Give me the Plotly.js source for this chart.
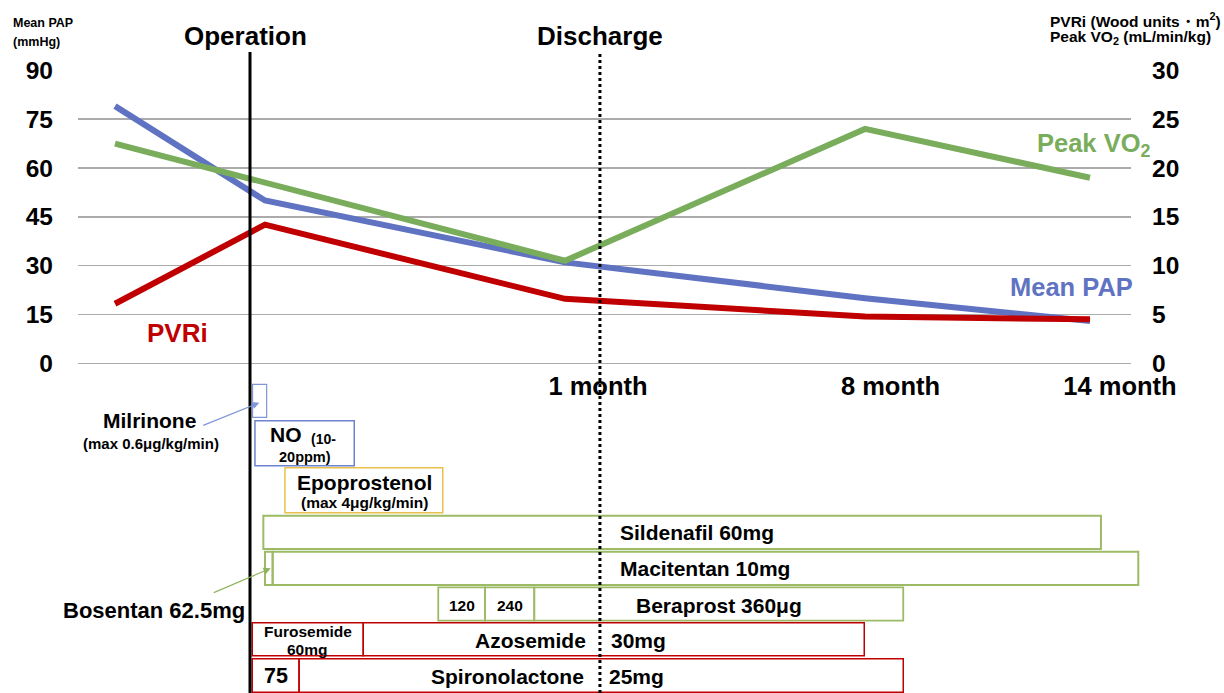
<!DOCTYPE html>
<html><head><meta charset="utf-8">
<script src="https://cdn.plot.ly/plotly-3.0.1.min.js"></script>
<style>html,body{margin:0;padding:0;background:#fff}#chart{width:1224px;height:693px}</style>
</head><body><div id="chart"></div>
<script>
// ---------------- data ----------------
const timePoints = ['Pre-op', 'Post-op', '1 month', '8 month', '14 month'];
const timePos   = [0, 1, 3, 5, 6.5];
const meanPAP   = [79, 50, 31, 20, 13];        // mmHg (left axis)
const pvri      = [6.1, 14.2, 6.6, 4.8, 4.5];  // Wood units·m² (right axis)
const peakVO2   = [22.5, null, 10.5, 24, 19];  // mL/min/kg (right axis)

const xTickText = ['1 month', '8 month', '14 month'];
const xTickPos  = [3.22, 5.17, 6.70];
const leftTicks  = [0, 15, 30, 45, 60, 75, 90];
const rightTicks = [0, 5, 10, 15, 20, 25, 30];

const eventNames = ['Operation', 'Discharge'];
const eventPos   = [0.9, 3.233];

// treatment timeline (same time units as timePos)
const drugName  = ['Milrinone','NO','Epoprostenol','Sildenafil','Bosentan','Macitentan','Beraprost','Beraprost','Beraprost','Furosemide','Azosemide','Spironolactone','Spironolactone'];
const drugDose  = ['max 0.6μg/kg/min','10-20ppm','max 4μg/kg/min','60mg','62.5mg','10mg','120','240','360μg','60mg','30mg','75','25mg'];
const drugStart = [0.917, 0.933, 1.133, 0.989, 1.000, 1.051, 2.155, 2.467, 2.795, 0.915, 1.655, 0.915, 1.227];
const drugEnd   = [1.011, 1.595, 2.185, 6.573, 1.051, 6.822, 2.467, 2.795, 5.255, 1.655, 4.995, 1.227, 5.255];
const drugRow   = [0, 1, 2, 3, 4, 4, 5, 5, 5, 6, 6, 7, 7];
const drugGroup = ['ino','no','pgi','pde5','era','era','pgi2oral','pgi2oral','pgi2oral','diuretic','diuretic','diuretic','diuretic'];

// ---------------- layout geometry / styles ----------------
const FONT = 'Liberation Sans, Arial, Helvetica, sans-serif';
const W = 1224, H = 693;
const plotL = 78, plotR = 1140, plotT = 70, plotB = 693;
const axisRightPx = 1131, axisBottomPx = 363.3, axisTopPx = 70;
const pxPerUnit = 150, originPx = 115;
const xMin = (plotL - originPx) / pxPerUnit;
const xMaxMain = (axisRightPx - originPx) / pxPerUnit;
const xMaxTL = (plotR - originPx) / pxPerUnit;
const plotH = plotB - plotT;
const pu = px => (px - originPx) / pxPerUnit;        // pixel column -> time units
const py = px => (plotB - px) / plotH;                // pixel row -> paper

// small padding so the 0 and 90 gridlines are interior
const padL = 0.1, padR = padL / 3;
const pxPerMM = (axisBottomPx - axisTopPx) / 90;
const mainLow = (plotB - (axisBottomPx + padL * pxPerMM)) / plotH;
const mainHigh = (plotB - (axisTopPx - padL * pxPerMM)) / plotH;
const tlHigh = (plotB - axisBottomPx) / plotH;

const rowTop    = [384.3, 420.7, 467.7, 515.7, 551.7, 587.3, 622.7, 658.7];
const rowBottom = [417.3, 465.7, 512.7, 549.0, 585.0, 620.7, 655.7, 692.3];
const groupColor = {ino:'#8196DA', no:'#6E82CF', pgi:'#E9C04C', pde5:'#9DBB67', era:'#9DBB67', pgi2oral:'#9DBB67', diuretic:'#C00000'};
const groupWidth = {ino:1.2, no:1.5, pgi:1.5, pde5:2, era:2, pgi2oral:1.8, diuretic:1.5};

const cBlue = '#5F73C2', cGreen = '#79AD5C', cRed = '#C00000';

// ---------------- traces ----------------
const traces = [
  {x: timePos, y: meanPAP, name: 'Mean PAP', yaxis: 'y', xaxis: 'x', mode: 'lines',
   line: {color: cBlue, width: 6}, hoverinfo: 'skip'},
  {x: timePos, y: pvri, name: 'PVRi', yaxis: 'y2', xaxis: 'x', mode: 'lines',
   line: {color: cRed, width: 6}, hoverinfo: 'skip'},
  {x: timePos, y: peakVO2, name: 'Peak VO2', yaxis: 'y2', xaxis: 'x', mode: 'lines', connectgaps: true,
   line: {color: cGreen, width: 6}, hoverinfo: 'skip'}
];

// ---------------- shapes ----------------
const shapes = [];
for (let i = 0; i < drugName.length; i++) {
  shapes.push({type: 'rect', xref: 'x2', yref: 'y3',
    x0: drugStart[i], x1: drugEnd[i], y0: rowTop[drugRow[i]], y1: rowBottom[drugRow[i]],
    line: {color: groupColor[drugGroup[i]], width: groupWidth[drugGroup[i]]},
    fillcolor: 'rgba(0,0,0,0)'});
}
eventNames.forEach((n, i) => {
  shapes.push({type: 'line', xref: 'x', yref: 'paper', x0: eventPos[i], x1: eventPos[i],
    y0: 0, y1: py(52), line: {color: '#000', width: 3, dash: i === 0 ? 'solid' : 'dot'}});
});

// ---------------- annotations ----------------
const ann = [];
function txt(text, x, y, size, opts) {
  ann.push(Object.assign({text: text, x: x, y: y, xref: 'x2', yref: 'y3', showarrow: false,
    xanchor: 'center', yanchor: 'middle',
    font: {family: FONT, size: size, color: '#000', weight: 'bold'}}, opts || {}));
}
function arrow(hx, hy, tx, ty, color) {
  ann.push({text: '', x: pu(hx), y: hy, ax: pu(tx), ay: ty, xref: 'x2', yref: 'y3', axref: 'x2', ayref: 'y3',
    showarrow: true, arrowhead: 2, arrowsize: 1.2, arrowwidth: 1.2, arrowcolor: color, standoff: 0});
}
function ptxt(text, xpx, ypx, size, opts) {
  ann.push(Object.assign({text: text, xref: 'paper', yref: 'paper', x: (xpx - plotL) / (plotR - plotL), y: py(ypx),
    xanchor: 'left', yanchor: 'middle', align: 'left', showarrow: false,
    font: {family: FONT, size: size, color: '#000', weight: 'bold'}}, opts || {}));
}
// headers
ptxt('Mean PAP', 11, 23, 12.5);
ptxt('(mmHg)', 11, 42, 12.5);
ptxt('PVRi (Wood units・m<sup>2</sup>)', 1048, 20, 15.5);
ptxt('Peak VO<sub>2</sub> (mL/min/kg)', 1048, 37, 15.5);
// event labels
eventNames.forEach((n, i) => {
  ann.push({text: n, xref: 'x', yref: 'paper', x: eventPos[i], y: py(36), xshift: i === 0 ? -5 : 0,
    xanchor: 'center', yanchor: 'middle', showarrow: false,
    font: {family: FONT, size: 26, color: '#000', weight: 'bold'}});
});
// series labels
ann.push({text: 'Peak VO<sub>2</sub>', xref: 'x', yref: 'y2', x: pu(1035), y: 22.4, xanchor: 'left', yanchor: 'middle',
  showarrow: false, font: {family: FONT, size: 25.5, color: cGreen, weight: 'bold'}});
ann.push({text: 'Mean PAP', xref: 'x', yref: 'y', x: pu(1008), y: 23.3, xanchor: 'left', yanchor: 'middle',
  showarrow: false, font: {family: FONT, size: 25.5, color: cBlue, weight: 'bold'}});
ann.push({text: 'PVRi', xref: 'x', yref: 'y', x: pu(145), y: 9.2, xanchor: 'left', yanchor: 'middle',
  showarrow: false, font: {family: FONT, size: 26, color: cRed, weight: 'bold'}});

// timeline labels
txt(drugName[0], pu(149), 420, 21);
txt('(' + drugDose[0] + ')', pu(151), 443, 15);
arrow(259.3, 402.7, 201.7, 426, '#7F96D9');
txt(drugName[1], pu(304), 434, 21, {xanchor: 'right'});
txt('(10-', pu(308.5), 438.5, 14, {xanchor: 'left'});
txt('20ppm)', pu(305), 457, 14.5);
txt(drugName[2], pu(364), 482, 21);
txt('(' + drugDose[2] + ')', pu(364), 502, 15.5);
txt(drugName[3] + ' ' + drugDose[3], pu(697), 532, 21);
txt(drugName[5] + ' ' + drugDose[5], pu(704.5), 568.5, 21);
txt(drugName[4] + ' ' + drugDose[4], pu(154), 610, 22);
arrow(270.7, 568.3, 212.3, 593.3, '#8FB35C');
txt(drugDose[6], pu(461.7), 605, 15.5);
txt(drugDose[7], pu(509.7), 605, 15.5);
txt(drugName[8] + ' ' + drugDose[8], pu(718.5), 605, 21);
txt(drugName[9], pu(307.8), 631.5, 15.5);
txt(drugDose[9], pu(307.8), 649.5, 15.5);
txt(drugName[10], pu(587.5), 640, 21, {xanchor: 'right'});
txt(drugDose[10], pu(609), 640, 21, {xanchor: 'left'});
txt(drugDose[11], pu(275.7), 676, 21.5);
txt(drugName[12], pu(585.5), 676, 21, {xanchor: 'right'});
txt(drugDose[12], pu(607), 676, 21, {xanchor: 'left'});

const tickFont = {family: FONT, size: 24.5, color: '#000', weight: 'bold'};
const layout = {
  width: W, height: H,
  margin: {l: plotL, r: W - plotR, t: plotT, b: H - plotB, pad: 0},
  paper_bgcolor: '#ffffff', plot_bgcolor: 'rgba(0,0,0,0)',
  showlegend: false,
  font: {family: FONT, color: '#000'},
  xaxis: {domain: [0, (axisRightPx - plotL) / (plotR - plotL)], range: [xMin, xMaxMain], anchor: 'y',
    tickmode: 'array', tickvals: xTickPos, ticktext: xTickText, ticks: '', ticklabelstandoff: 5,
    showgrid: false, zeroline: false, showline: false, fixedrange: true,
    tickfont: {family: FONT, size: 25.5, color: '#000', weight: 'bold'}},
  yaxis: {domain: [mainLow, mainHigh], range: [-padL, 90 + padL], anchor: 'x', tickmode: 'array', tickvals: leftTicks,
    ticks: '', ticklabelstandoff: 24, showgrid: true, gridcolor: '#ABABAB', gridwidth: 1.5,
    zeroline: true, zerolinecolor: '#ABABAB', zerolinewidth: 1.5, showline: false, fixedrange: true,
    tickfont: tickFont},
  yaxis2: {overlaying: 'y', side: 'right', anchor: 'x', range: [-padR, 30 + padR], tickmode: 'array', tickvals: rightTicks,
    ticks: '', ticklabelstandoff: 20, showgrid: false, zeroline: false, showline: false, fixedrange: true,
    tickfont: tickFont},
  xaxis2: {domain: [0, 1], range: [xMin, xMaxTL], anchor: 'y3', visible: false, fixedrange: true},
  yaxis3: {domain: [0, tlHigh], range: [plotB, axisBottomPx], anchor: 'x2', visible: false, fixedrange: true},
  shapes: shapes,
  annotations: ann
};

Plotly.newPlot('chart', traces, layout, {displayModeBar: false, staticPlot: true});
</script>
</body></html>
